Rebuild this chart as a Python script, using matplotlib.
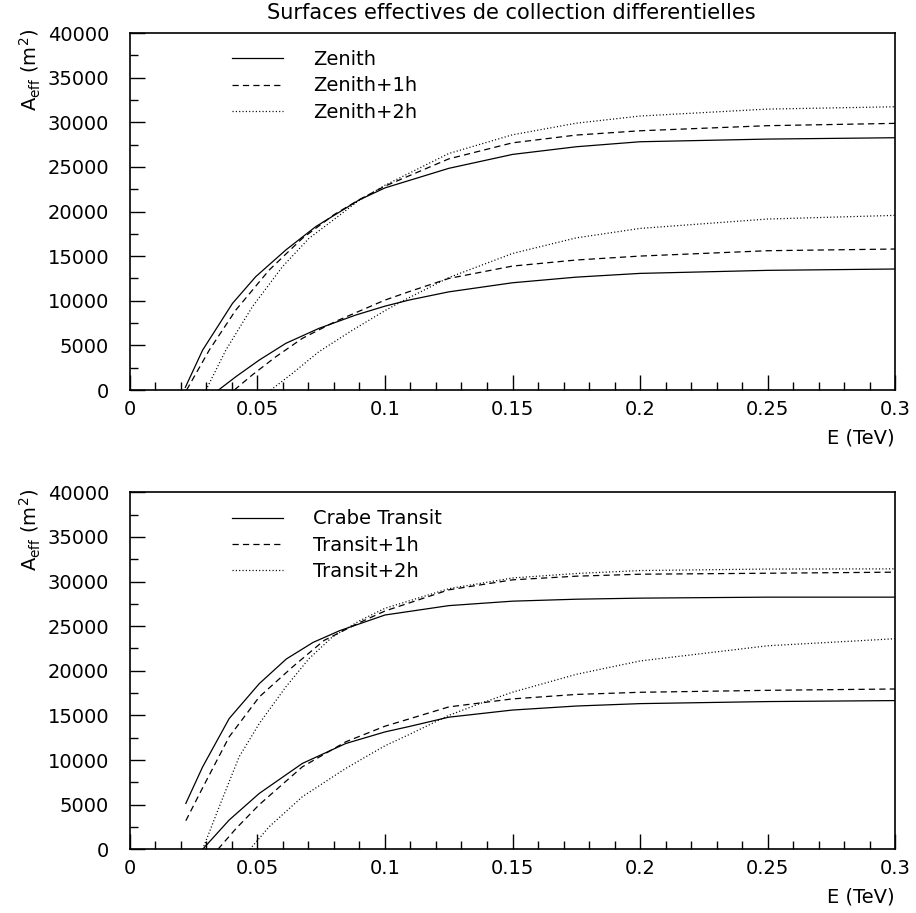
# Effective collection areas vs energy (Zenith / Transit)
import matplotlib
matplotlib.use("Agg")
import matplotlib.pyplot as plt
from matplotlib.ticker import MultipleLocator, FuncFormatter

# Top panel: Zenith, upper family
zen0_hi_x = [0.0217, 0.0285, 0.0402, 0.0493, 0.0611, 0.0728, 0.0898, 0.1, 0.125, 0.15, 0.175, 0.2, 0.25, 0.3]
zen0_hi_y = [300, 4480, 9710, 12700, 15690, 18300, 21290, 22650, 24840, 26400, 27260, 27820, 28120, 28270]
zen1_hi_x = [0.0222, 0.0311, 0.0415, 0.0546, 0.0676, 0.08, 0.09, 0.1, 0.125, 0.15, 0.175, 0.2, 0.25, 0.3]
zen1_hi_y = [0, 4480, 8960, 13450, 17000, 19650, 21350, 22850, 25900, 27700, 28570, 29050, 29620, 29880]
zen2_hi_x = [0.0298, 0.0376, 0.048, 0.0598, 0.0702, 0.078, 0.0896, 0.1, 0.125, 0.15, 0.175, 0.2, 0.25, 0.3]
zen2_hi_y = [0, 4480, 9340, 13820, 17000, 18680, 21200, 22950, 26500, 28600, 29900, 30700, 31480, 31740]

# Top panel: Zenith, lower family
zen0_lo_x = [0.0347, 0.0415, 0.0507, 0.0611, 0.0741, 0.0885, 0.1, 0.1094, 0.125, 0.15, 0.175, 0.2, 0.25, 0.3]
zen0_lo_y = [0, 1490, 3360, 5230, 6910, 8400, 9400, 10080, 11000, 12020, 12650, 13070, 13410, 13560]
zen1_lo_x = [0.0409, 0.048, 0.0572, 0.0676, 0.0807, 0.1, 0.1094, 0.125, 0.15, 0.175, 0.2, 0.25, 0.3]
zen1_lo_y = [0, 1700, 3730, 5790, 7700, 10080, 11020, 12500, 13890, 14570, 15010, 15610, 15800]
zen2_lo_x = [0.0552, 0.0637, 0.0741, 0.0872, 0.1, 0.1067, 0.125, 0.15, 0.175, 0.2, 0.25, 0.3]
zen2_lo_y = [0, 1870, 4300, 6700, 8900, 9950, 12600, 15300, 17050, 18110, 19160, 19570]

# Bottom panel: Transit, upper family
tr0_hi_x = [0.0219, 0.0285, 0.0389, 0.0507, 0.0613, 0.0718, 0.0822, 0.1, 0.125, 0.15, 0.175, 0.2, 0.25, 0.3]
tr0_hi_y = [5140, 9240, 14650, 18560, 21320, 23180, 24490, 26250, 27300, 27800, 28020, 28140, 28250, 28250]
tr1_hi_x = [0.0219, 0.0285, 0.0389, 0.0507, 0.0637, 0.0761, 0.09, 0.1, 0.125, 0.15, 0.175, 0.2, 0.25, 0.3]
tr1_hi_y = [3200, 6900, 12600, 17070, 20420, 23400, 25400, 26700, 29070, 30190, 30600, 30820, 30930, 31050]
tr2_hi_x = [0.0285, 0.035, 0.0428, 0.0507, 0.0611, 0.0702, 0.0794, 0.09, 0.1, 0.125, 0.15, 0.175, 0.2, 0.25, 0.3]
tr2_hi_y = [0, 4770, 10360, 14090, 18190, 21360, 23800, 25600, 27000, 29200, 30400, 30900, 31230, 31400, 31420]

# Bottom panel: Transit, lower family
tr0_lo_x = [0.0285, 0.0389, 0.0507, 0.0676, 0.0846, 0.1, 0.1094, 0.125, 0.15, 0.175, 0.2, 0.25, 0.3]
tr0_lo_y = [0, 3280, 6260, 9620, 11850, 13150, 13750, 14800, 15600, 16050, 16320, 16550, 16660]
tr1_lo_x = [0.0345, 0.0415, 0.0507, 0.0676, 0.0846, 0.1, 0.1094, 0.125, 0.15, 0.175, 0.2, 0.25, 0.3]
tr1_lo_y = [0, 2300, 5000, 9240, 12040, 13790, 14600, 15950, 16850, 17350, 17590, 17810, 17960]
tr2_lo_x = [0.047, 0.0546, 0.0676, 0.0846, 0.1, 0.1094, 0.125, 0.137, 0.15, 0.175, 0.2, 0.25, 0.3]
tr2_lo_y = [0, 2530, 5890, 9060, 11600, 12850, 15000, 16300, 17600, 19600, 21100, 22800, 23590]

zen_labels = ["Zenith", "Zenith+1h", "Zenith+2h"]
tr_labels = ["Crabe Transit", "Transit+1h", "Transit+2h"]

plt.rcParams['font.family'] = ['DejaVu Sans']
plt.rcParams['lines.scale_dashes'] = False
plt.rcParams['mathtext.default'] = 'regular'

styles = ['-', (0, (4.5, 3.0)), (0, (0.8, 1.6))]
lw = 0.9
fs = 14

fig = plt.figure(figsize=(9.16, 9.13), dpi=100)
ax_top = fig.add_axes([0.1419, 0.5728, 0.8352, 0.3910])
ax_bot = fig.add_axes([0.1419, 0.0698, 0.8352, 0.3910])


def fmt_x(v, pos):
    return "%g" % round(v, 3)


def setup(ax):
    ax.set_xlim(0, 0.3)
    ax.set_ylim(0, 40000)
    ax.xaxis.set_major_locator(MultipleLocator(0.05))
    ax.xaxis.set_minor_locator(MultipleLocator(0.01))
    ax.yaxis.set_major_locator(MultipleLocator(5000))
    ax.yaxis.set_minor_locator(MultipleLocator(2500))
    ax.xaxis.set_major_formatter(FuncFormatter(fmt_x))
    ax.tick_params(which='both', direction='in', top=False, right=False, width=1.0, labelsize=fs)
    ax.tick_params(which='major', length=11)
    ax.tick_params(which='minor', length=5.5)
    ax.tick_params(axis='x', pad=7)
    ax.tick_params(axis='y', pad=15)
    for sp in ax.spines.values():
        sp.set_linewidth(1.2)


# Top panel
hi = [(zen0_hi_x, zen0_hi_y), (zen1_hi_x, zen1_hi_y), (zen2_hi_x, zen2_hi_y)]
lo = [(zen0_lo_x, zen0_lo_y), (zen1_lo_x, zen1_lo_y), (zen2_lo_x, zen2_lo_y)]
for i in range(3):
    ax_top.plot(hi[i][0], hi[i][1], color='black', lw=lw, linestyle=styles[i], label=zen_labels[i])
    ax_top.plot(lo[i][0], lo[i][1], color='black', lw=lw, linestyle=styles[i])

# Bottom panel
hi = [(tr0_hi_x, tr0_hi_y), (tr1_hi_x, tr1_hi_y), (tr2_hi_x, tr2_hi_y)]
lo = [(tr0_lo_x, tr0_lo_y), (tr1_lo_x, tr1_lo_y), (tr2_lo_x, tr2_lo_y)]
for i in range(3):
    ax_bot.plot(hi[i][0], hi[i][1], color='black', lw=lw, linestyle=styles[i], label=tr_labels[i])
    ax_bot.plot(lo[i][0], lo[i][1], color='black', lw=lw, linestyle=styles[i])

for ax in (ax_top, ax_bot):
    setup(ax)
    ax.legend(loc='upper left', bbox_to_anchor=(0.133, 0.952), frameon=False, fontsize=fs,
              borderpad=0, borderaxespad=0, handlelength=2.63, handletextpad=1.55, labelspacing=0.37)
    ax.text(1.0, -0.134, "E (TeV)", transform=ax.transAxes, ha='right', va='center', fontsize=fs)

# Title and y labels
fig.text(0.558, 0.986, "Surfaces effectives de collection differentielles", ha='center', va='center', fontsize=15)
fig.text(0.033, 0.923, r"$A_{eff}$ (m$^{2}$)", rotation=90, ha='center', va='center', fontsize=fs)
fig.text(0.033, 0.420, r"$A_{eff}$ (m$^{2}$)", rotation=90, ha='center', va='center', fontsize=fs)

fig.savefig("out.png", dpi=100, facecolor='white')
